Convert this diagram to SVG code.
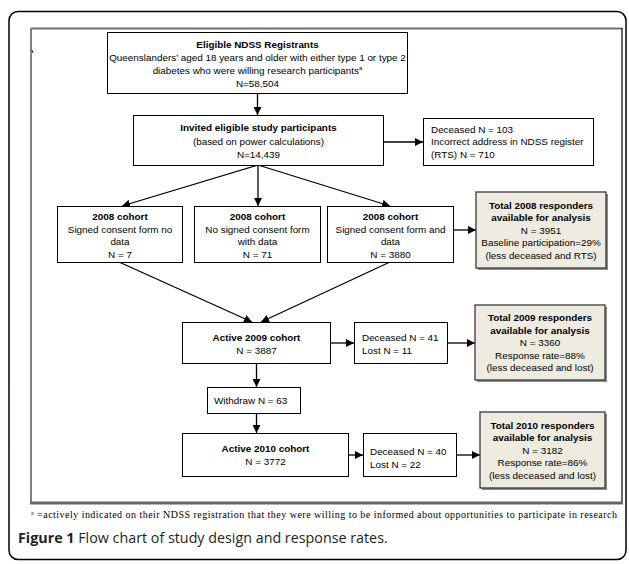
<svg xmlns="http://www.w3.org/2000/svg" width="629" height="564" viewBox="0 0 629 564">
<defs>
<marker id="ah" markerUnits="userSpaceOnUse" markerWidth="9" markerHeight="8" refX="8" refY="4" orient="auto">
<path d="M0,0 L8,4 L0,8 z" fill="#000"/>
</marker>
<style>
.box{fill:#fff;stroke:#000;stroke-width:1}
.tot{fill:#eeece1;stroke:#3a3a3a;stroke-width:1.3}
.sh{fill:#8a8a8a}
.t{font-family:"Liberation Sans",Arial,sans-serif;font-size:9.9px;fill:#000}
.c{text-anchor:middle}
.b{font-weight:bold}
.con line{stroke:#000;stroke-width:1.3;marker-end:url(#ah)}
</style>
</defs>
<rect width="629" height="564" fill="#fff"/>
<g id="frame">
<rect x="9" y="11.5" width="617" height="548" rx="9" fill="none" stroke="#000" stroke-width="1.5"/>
<line x1="31" y1="28.5" x2="622" y2="28.5" stroke="#707070" stroke-width="2"/>
<line x1="31" y1="28" x2="31" y2="504" stroke="#808080" stroke-width="2"/>
<line x1="622" y1="28" x2="622" y2="504" stroke="#000" stroke-width="1.2"/>
<line x1="30" y1="503" x2="623" y2="503" stroke="#666" stroke-width="3"/>
<line x1="32" y1="50" x2="33" y2="53" stroke="#333" stroke-width="1"/>
</g>
<g class="con">
<line x1="257.5" y1="93" x2="257.5" y2="115"/>
<line x1="383" y1="142" x2="423" y2="142"/>
<line x1="258" y1="165" x2="122" y2="206"/>
<line x1="258" y1="165" x2="258" y2="206"/>
<line x1="258" y1="165" x2="390" y2="206"/>
<line x1="453" y1="230" x2="476" y2="230"/>
<line x1="119" y1="262" x2="252" y2="322"/>
<line x1="390" y1="262" x2="261" y2="322"/>
<line x1="331" y1="343" x2="354" y2="343"/>
<line x1="447" y1="343" x2="475" y2="343"/>
<line x1="256.5" y1="363" x2="256.5" y2="387"/>
<line x1="256.5" y1="413" x2="256.5" y2="433"/>
<line x1="348" y1="455" x2="363" y2="455"/>
<line x1="456" y1="455" x2="480" y2="455"/>
</g>
<g id="n1">
<rect class="box" x="107.5" y="32.5" width="300" height="61"/>
<text class="t c b" x="257.5" y="47.5">Eligible NDSS Registrants</text>
<text class="t c" x="257.5" y="60.5">Queenslanders’ aged 18 years and older with either type 1 or type 2</text>
<text class="t c" x="257.5" y="73.5">diabetes who were willing research participants<tspan font-size="6" dy="-4">a</tspan></text>
<text class="t c" x="257.5" y="86.5">N=58,504</text>
</g>
<g id="n2">
<rect class="box" x="133.5" y="115.5" width="250" height="50"/>
<text class="t c b" x="258.5" y="131">Invited eligible study participants</text>
<text class="t c" x="258.5" y="144.5">(based on power calculations)</text>
<text class="t c" x="258.5" y="158">N=14,439</text>
</g>
<g id="n3">
<rect class="box" x="423.5" y="118.5" width="170" height="47"/>
<text class="t" x="431" y="132.5">Deceased N = 103</text>
<text class="t" x="431" y="145">Incorrect address in NDSS register</text>
<text class="t" x="431" y="157.5">(RTS) N = 710</text>
</g>
<g id="n4">
<rect class="box" x="57.5" y="206.5" width="125" height="56"/>
<text class="t c b" x="120" y="220">2008 cohort</text>
<text class="t c" x="120" y="232.5">Signed consent form no</text>
<text class="t c" x="120" y="245">data</text>
<text class="t c" x="120" y="257.5">N = 7</text>
</g>
<g id="n5">
<rect class="box" x="194.5" y="206.5" width="126" height="56"/>
<text class="t c b" x="257.5" y="220">2008 cohort</text>
<text class="t c" x="257.5" y="232.5">No signed consent form</text>
<text class="t c" x="257.5" y="245">with data</text>
<text class="t c" x="257.5" y="257.5">N = 71</text>
</g>
<g id="n6">
<rect class="box" x="327.5" y="206.5" width="126" height="56"/>
<text class="t c b" x="390.5" y="220">2008 cohort</text>
<text class="t c" x="390.5" y="232.5">Signed consent form and</text>
<text class="t c" x="390.5" y="245">data</text>
<text class="t c" x="390.5" y="257.5">N = 3880</text>
</g>
<g id="n7">
<rect class="sh" x="478" y="194" width="130" height="76"/>
<rect class="tot" x="476" y="192" width="130" height="76"/>
<text class="t c b" x="541" y="208.5">Total 2008 responders</text>
<text class="t c b" x="541" y="221">available for analysis</text>
<text class="t c" x="541" y="233.5">N = 3951</text>
<text class="t c" x="541" y="246">Baseline participation=29%</text>
<text class="t c" x="541" y="258.5">(less deceased and RTS)</text>
</g>
<g id="n8">
<rect class="box" x="182.5" y="322.5" width="148" height="41"/>
<text class="t c b" x="256.5" y="340.5">Active 2009 cohort</text>
<text class="t c" x="256.5" y="353.5">N = 3887</text>
</g>
<g id="n9">
<rect class="box" x="354.5" y="322.5" width="93" height="41"/>
<text class="t" x="362" y="340.5">Deceased N = 41</text>
<text class="t" x="362" y="353.5">Lost N = 11</text>
</g>
<g id="n10">
<rect class="sh" x="477" y="307" width="130" height="75"/>
<rect class="tot" x="475" y="305" width="130" height="75"/>
<text class="t c b" x="540" y="321">Total 2009 responders</text>
<text class="t c b" x="540" y="333.5">available for analysis</text>
<text class="t c" x="540" y="346">N = 3360</text>
<text class="t c" x="540" y="358.5">Response rate=88%</text>
<text class="t c" x="540" y="371">(less deceased and lost)</text>
</g>
<g id="n11">
<rect class="box" x="207.5" y="387.5" width="93" height="26"/>
<text class="t" x="214" y="403.5">Withdraw N = 63</text>
</g>
<g id="n12">
<rect class="box" x="182.5" y="433.5" width="166" height="43"/>
<text class="t c b" x="265.5" y="451.5">Active 2010 cohort</text>
<text class="t c" x="265.5" y="464.5">N = 3772</text>
</g>
<g id="n13">
<rect class="box" x="363.5" y="433.5" width="93" height="43"/>
<text class="t" x="370" y="454.5">Deceased N = 40</text>
<text class="t" x="370" y="467.5">Lost N = 22</text>
</g>
<g id="n14">
<rect class="sh" x="482" y="414" width="125" height="76"/>
<rect class="tot" x="480" y="412" width="125" height="76"/>
<text class="t c b" x="542.5" y="428.5">Total 2010 responders</text>
<text class="t c b" x="542.5" y="441">available for analysis</text>
<text class="t c" x="542.5" y="453.5">N = 3182</text>
<text class="t c" x="542.5" y="466">Response rate=86%</text>
<text class="t c" x="542.5" y="478.5">(less deceased and lost)</text>
</g>
<g id="notes">
<text x="31" y="518" font-family="Liberation Serif,Times New Roman,serif" font-size="10" fill="#000" textLength="586" lengthAdjust="spacing"><tspan font-size="6" dy="-3.5">a</tspan><tspan dy="3.5"> =actively indicated on their NDSS registration that they were willing to be informed about opportunities to participate in research</tspan></text>
<text x="18" y="543" font-family="Open Sans,Liberation Sans,sans-serif" font-size="14.3" fill="#231f20"><tspan font-weight="bold">Figure 1</tspan> Flow chart of study design and response rates.</text>
</g>
</svg>
